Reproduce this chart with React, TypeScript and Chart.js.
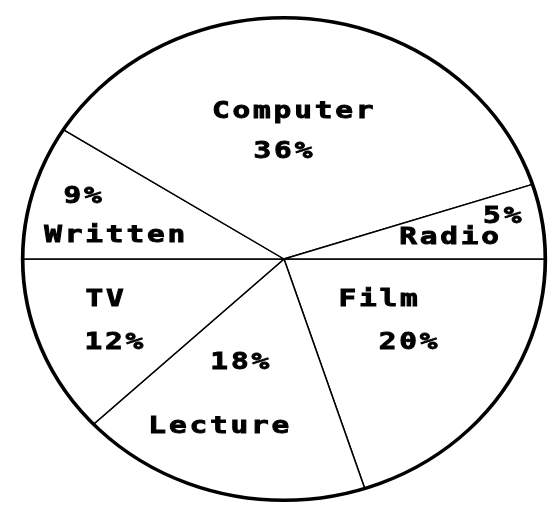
import React, { useEffect, useRef } from 'react';
import { Chart, ArcElement, PieController, Plugin } from 'chart.js';

Chart.register(ArcElement, PieController);

// slices, clockwise from 3 o'clock
const categories = ['Film', 'Lecture', 'TV', 'Written', 'Computer', 'Radio'];
const shares = [20, 18, 12, 9, 36, 5];
const shareLabels = ['20%', '18%', '12%', '9%', '36%', '5%'];

// label placement: [angle offset from slice middle in degrees, fraction of radius]
const nameSpots = [[-11.8, 0.395], [5.6, 0.729], [8.3, 0.705], [-7.1, 0.656], [-4.1, 0.619], [0.4, 0.639]];
const valueSpots = [[-0.4, 0.584], [7.4, 0.456], [-6, 0.735], [2.8, 0.815], [-7.7, 0.452], [-3.4, 0.855]];

const stretchX = 261 / 241; // the pie is a little wider than tall
const textStretch = 1.28;
const spacing = 2.2;
const capHeight = 16.5;

function drawLabel(ctx: CanvasRenderingContext2D, text: string, x: number, y: number) {
  ctx.save();
  ctx.translate(x, y);
  ctx.scale(textStretch, 1);
  const w = ctx.measureText(text).width - spacing;
  ctx.fillText(text, -w / 2, capHeight / 2);
  ctx.strokeText(text, -w / 2, capHeight / 2);
  ctx.restore();
}

const ellipsePie: Plugin<'pie'> = {
  id: 'ellipsePie',
  beforeDatasetsDraw(chart) {
    const arc = chart.getDatasetMeta(0).data[0] as any;
    const ctx = chart.ctx;
    ctx.save();
    if (!arc) return;
    ctx.translate(arc.x, arc.y);
    ctx.scale(stretchX, 1);
    ctx.translate(-arc.x, -arc.y);
  },
  afterDatasetsDraw(chart) {
    const arcs = chart.getDatasetMeta(0).data as any[];
    const ctx = chart.ctx;
    if (!arcs.length) {
      ctx.restore();
      return;
    }
    const { x, y, outerRadius } = arcs[0];
    ctx.beginPath();
    ctx.arc(x, y, outerRadius, 0, Math.PI * 2);
    ctx.lineWidth = 3.4;
    ctx.strokeStyle = '#000';
    ctx.stroke();
    ctx.restore();

    ctx.save();
    ctx.fillStyle = '#000';
    ctx.strokeStyle = '#000';
    ctx.lineWidth = 0.9;
    ctx.lineJoin = 'miter';
    ctx.font = 'bold 23px "DejaVu Sans Mono"';
    (ctx as any).letterSpacing = spacing + 'px';
    ctx.textAlign = 'left';
    ctx.textBaseline = 'alphabetic';
    arcs.forEach((arc, i) => {
      const mid = (arc.startAngle + arc.endAngle) / 2;
      const put = (text: string, spot: number[]) => {
        const a = mid + (spot[0] * Math.PI) / 180;
        const r = spot[1] * outerRadius;
        drawLabel(ctx, text, x + Math.cos(a) * r * stretchX, y + Math.sin(a) * r);
      };
      put(categories[i], nameSpots[i]);
      put(shareLabels[i], valueSpots[i]);
    });
    ctx.restore();
  },
};

const App: React.FC = () => {
  const canvasRef = useRef<HTMLCanvasElement | null>(null);

  useEffect(() => {
    if (!canvasRef.current) return;
    const chart = new Chart(canvasRef.current, {
      type: 'pie',
      data: {
        labels: categories,
        datasets: [{
          data: shares,
          backgroundColor: '#fff',
          borderColor: '#000',
          borderWidth: 1.4,
          clip: false,
        }],
      },
      options: {
        responsive: true,
        maintainAspectRatio: false,
        animation: false,
        rotation: 90,
        layout: { padding: { top: 17, bottom: 8, left: 16, right: 0 } },
        plugins: {
          legend: { display: false },
          tooltip: { enabled: false },
        },
        events: [],
      },
      plugins: [ellipsePie],
    });
    return () => chart.destroy();
  }, []);

  return (
    <div style={{ position: 'fixed', left: 0, top: 0, width: 552, height: 509, background: '#fff' }}>
      <canvas ref={canvasRef}></canvas>
    </div>
  );
};

export default App;
